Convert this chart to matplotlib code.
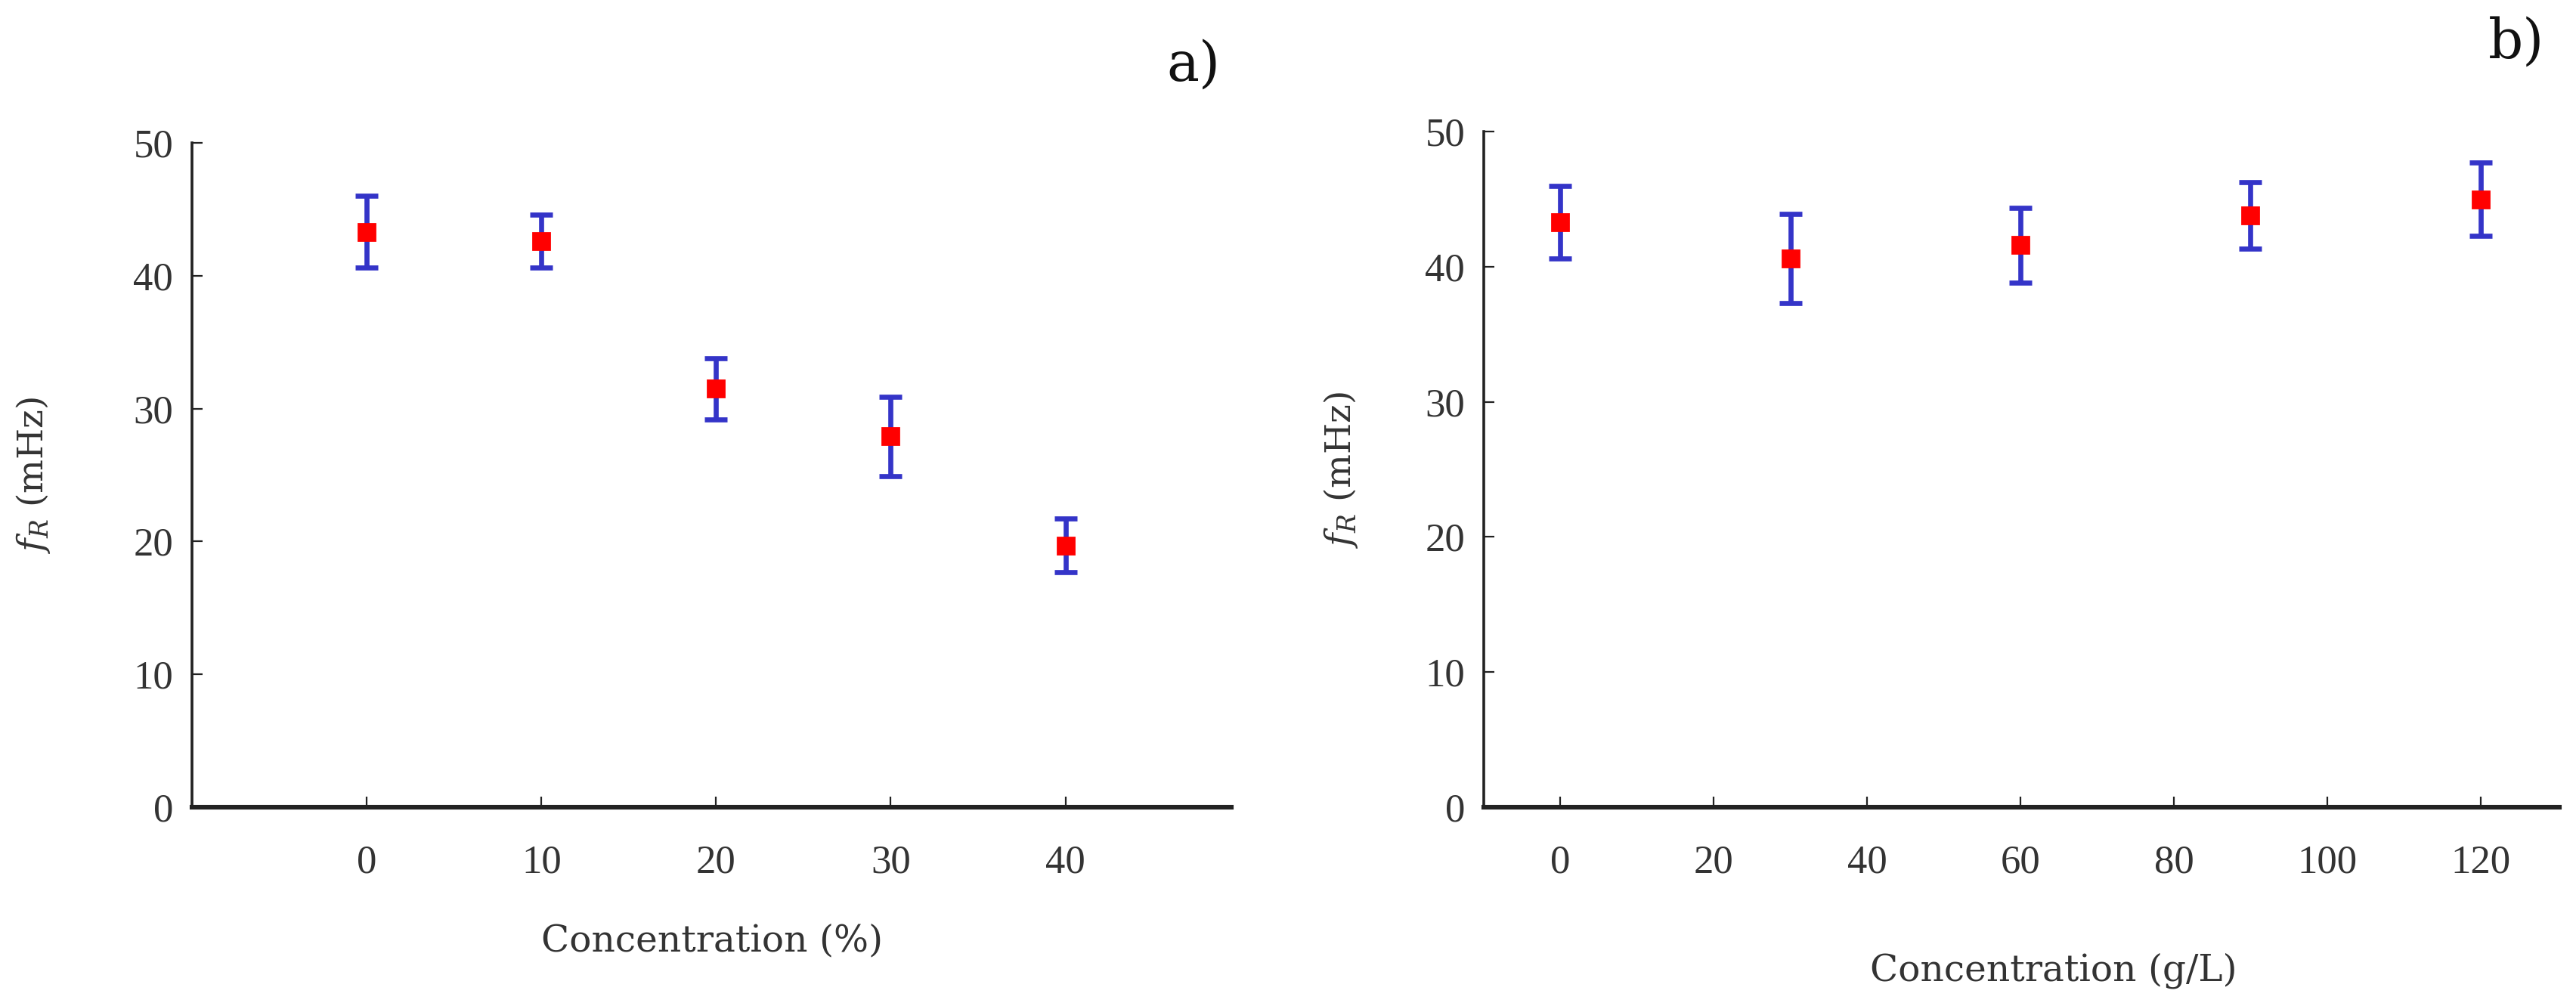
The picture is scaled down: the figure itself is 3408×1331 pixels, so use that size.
import matplotlib.pyplot as plt

plt.rcParams['font.family'] = ['DejaVu Serif']
plt.rcParams['mathtext.fontset'] = 'dejavuserif'

# panel a
conc_pct = [0, 10, 20, 30, 40]
fr_pct = [43.3, 42.6, 31.5, 27.9, 19.7]
err_pct = [2.7, 2.0, 2.3, 3.0, 2.0]

# panel b
conc_gl = [0, 30, 60, 90, 120]
fr_gl = [43.3, 40.6, 41.6, 43.8, 45.0]
err_gl = [2.7, 3.3, 2.75, 2.45, 2.7]

txt = '#333333'

fig = plt.figure(figsize=(17.04, 6.655), dpi=200)
ax1 = fig.add_axes([0.0746, 0.1977, 0.4034, 0.6603])
ax2 = fig.add_axes([0.576, 0.1977, 0.4176, 0.6713])


def style(ax):
    for s in ['top', 'right']:
        ax.spines[s].set_visible(False)
    ax.spines['left'].set_linewidth(1.3)
    ax.spines['bottom'].set_linewidth(2.2)
    ax.spines['left'].set_color('#222222')
    ax.spines['bottom'].set_color('#222222')
    ax.tick_params(axis='both', direction='in', length=5, width=0.8,
                   colors='#222222', labelcolor=txt)
    ax.tick_params(axis='x', pad=18)
    ax.tick_params(axis='y', pad=9)
    ax.set_ylim(0, 50)
    ax.set_yticks([0, 10, 20, 30, 40, 50])
    for lab in ax.get_xticklabels() + ax.get_yticklabels():
        lab.set_fontfamily('Liberation Serif')
        lab.set_fontsize(19)
    ax.set_ylabel(r'$f_R$ (mHz)', fontsize=17, color=txt)


ax1.errorbar(conc_pct, fr_pct, yerr=err_pct, fmt='none', ecolor='#3434c8',
             elinewidth=2.4, capsize=5.5, capthick=2.4)
ax1.plot(conc_pct, fr_pct, 's', color='#ff0000', markersize=8, zorder=3)
ax1.set_xlim(-10, 49.5)
ax1.set_xticks(conc_pct)
style(ax1)
ax1.set_xlabel('Concentration (%)', fontsize=17.5, color=txt)
ax1.xaxis.set_label_coords(0.5, -0.175)
ax1.yaxis.set_label_coords(-0.135, 0.5)
fig.text(0.453, 0.935, 'a)', fontsize=26, color='#111111', ha='left', va='center')

ax2.errorbar(conc_gl, fr_gl, yerr=err_gl, fmt='none', ecolor='#3434c8',
             elinewidth=2.4, capsize=5.5, capthick=2.4)
ax2.plot(conc_gl, fr_gl, 's', color='#ff0000', markersize=8, zorder=3)
ax2.set_xlim(-10, 130.3)
ax2.set_xticks([0, 20, 40, 60, 80, 100, 120])
style(ax2)
ax2.set_xlabel('Concentration (g/L)', fontsize=17.5, color=txt)
ax2.xaxis.set_label_coords(0.53, -0.215)
ax2.yaxis.set_label_coords(-0.115, 0.5)
fig.text(0.966, 0.958, 'b)', fontsize=26, color='#111111', ha='left', va='center')

fig.savefig('out.png', dpi=200)
